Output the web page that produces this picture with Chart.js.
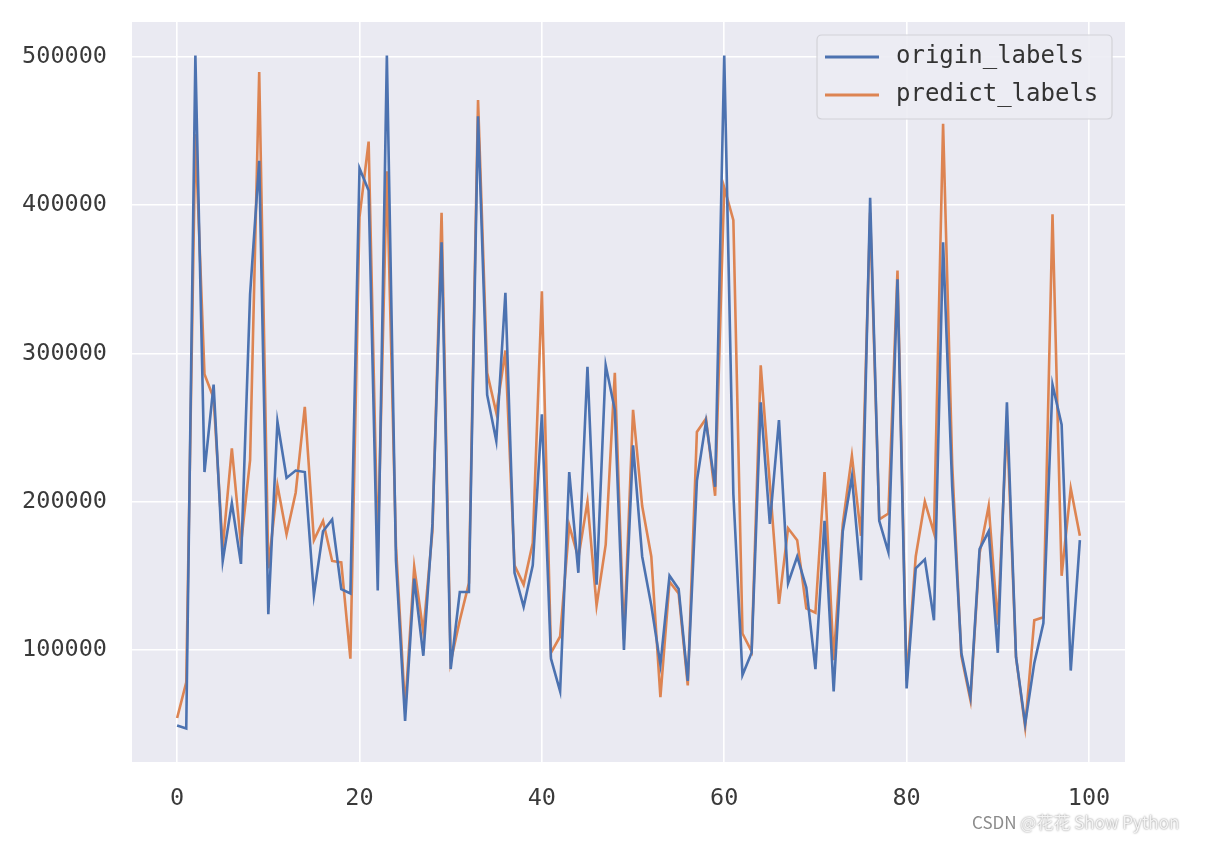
<!DOCTYPE html>
<html>
<head>
<meta charset="utf-8">
<script src="https://cdn.jsdelivr.net/npm/chart.js@4/dist/chart.umd.min.js"></script>
<style>
html,body{margin:0;padding:0;background:#ffffff;}
#wrap{width:1216px;height:842px;position:relative;}
canvas{display:block;}
</style>
</head>
<body>
<div id="wrap"><canvas id="c" width="1216" height="842"></canvas></div>
<script>
const seriesNames = ['origin_labels', 'predict_labels'];
const originLabels = [
  49000, 47000, 501000, 220000, 279000, 160000, 199000, 158000, 340000, 430000,
  124000, 254000, 216000, 221000, 220000, 137000, 180000, 188000, 141000, 138000,
  425000, 410000, 140000, 501000, 160000, 52000, 148000, 96000, 185000, 375000,
  87000, 139000, 139000, 460000, 272000, 241000, 341000, 152000, 129000, 157000,
  259000, 94000, 72000, 220000, 152000, 291000, 144000, 292000, 262000, 100000,
  238000, 163000, 130000, 90000, 150000, 141000, 79000, 214000, 254000, 210000,
  501000, 205000, 83000, 98000, 267000, 185000, 255000, 145000, 163000, 142000,
  87000, 187000, 72000, 180000, 217000, 147000, 405000, 187000, 166000, 350000,
  74000, 155000, 161000, 120000, 375000, 210000, 98000, 68000, 168000, 180000,
  98000, 267000, 95000, 50000, 91000, 118000, 279000, 252000, 86000, 174000
];
const predictLabels = [
  54000, 78000, 448000, 286000, 270000, 169000, 236000, 171000, 228000, 490000,
  155000, 211000, 178000, 206000, 264000, 174000, 187000, 160000, 159000, 94000,
  392000, 443000, 165000, 423000, 170000, 60000, 156000, 112000, 180000, 395000,
  92000, 120000, 145000, 471000, 287000, 260000, 302000, 157000, 144000, 172000,
  342000, 98000, 109000, 184000, 162000, 200000, 130000, 171000, 287000, 107000,
  262000, 197000, 163000, 68000, 146000, 138000, 76000, 247000, 256000, 204000,
  412000, 390000, 111000, 99000, 292000, 212000, 131000, 182000, 174000, 128000,
  125000, 220000, 93000, 185000, 231000, 177000, 395000, 188000, 192000, 356000,
  79000, 163000, 200000, 179000, 455000, 225000, 96000, 66000, 165000, 197000,
  117000, 254000, 95000, 48000, 120000, 122000, 394000, 150000, 209000, 177000
];
const xTicks = [0, 20, 40, 60, 80, 100];
const yTicks = [100000, 200000, 300000, 400000, 500000];

const indices = originLabels.map((_, i) => i);
const toPoints = arr => arr.map((v, i) => ({x: indices[i], y: v}));

const allVals = originLabels.concat(predictLabels);
const yMinD = Math.min(...allVals), yMaxD = Math.max(...allVals);
const yPad = (yMaxD - yMinD) * 0.05;
const xMinD = indices[0], xMaxD = indices[indices.length - 1];
const xPad = (xMaxD - xMinD) * 0.05;

const MONO = '"DejaVu Sans Mono", monospace';
const BLUE = '#4C72B0', ORANGE = '#DD8452';

const bgPlugin = {
  id: 'bg',
  beforeDraw(chart) {
    const {ctx, chartArea: a} = chart;
    ctx.save();
    ctx.fillStyle = '#EAEAF2';
    ctx.fillRect(a.left, a.top, a.right - a.left, a.bottom - a.top);
    ctx.restore();
  },
  afterDraw(chart) {
    const {ctx} = chart;
    const bx = 817, by = 35, bw = 295, bh = 84;
    ctx.save();
    ctx.fillStyle = 'rgba(236,236,243,0.9)';
    ctx.strokeStyle = '#d2d2d8';
    ctx.lineWidth = 1.2;
    const r = 5;
    ctx.beginPath();
    ctx.moveTo(bx + r, by);
    ctx.lineTo(bx + bw - r, by);
    ctx.quadraticCurveTo(bx + bw, by, bx + bw, by + r);
    ctx.lineTo(bx + bw, by + bh - r);
    ctx.quadraticCurveTo(bx + bw, by + bh, bx + bw - r, by + bh);
    ctx.lineTo(bx + r, by + bh);
    ctx.quadraticCurveTo(bx, by + bh, bx, by + bh - r);
    ctx.lineTo(bx, by + r);
    ctx.quadraticCurveTo(bx, by, bx + r, by);
    ctx.closePath();
    ctx.fill();
    ctx.stroke();
    const ds = chart.data.datasets;
    ctx.font = '24px ' + MONO;
    ctx.textBaseline = 'middle';
    ctx.textAlign = 'left';
    ds.forEach((d, i) => {
      const y = 57 + i * 38;
      ctx.strokeStyle = d.borderColor;
      ctx.lineWidth = 2.8;
      ctx.beginPath();
      ctx.moveTo(825, y);
      ctx.lineTo(879, y);
      ctx.stroke();
      ctx.fillStyle = '#333333';
      ctx.fillText(d.label, 896, y);
    });
    ctx.font = '17px "Noto Sans CJK SC", "Noto Sans", sans-serif';
    ctx.textBaseline = 'middle';
    ctx.fillStyle = '#8c8c8c';
    ctx.fillText('CSDN', 972, 823);
    const w = ctx.measureText('CSDN ').width;
    ctx.shadowColor = 'rgba(0,0,0,0.55)';
    ctx.shadowBlur = 2;
    ctx.fillStyle = '#f4f4f4';
    ctx.fillText('@花花 Show Python', 972 + w, 823);
    ctx.restore();
  }
};

new Chart(document.getElementById('c'), {
  type: 'line',
  data: {
    datasets: [
      {label: seriesNames[0], data: toPoints(originLabels), borderColor: BLUE, backgroundColor: BLUE,
       borderWidth: 2.6, pointRadius: 0, tension: 0, fill: false},
      {label: seriesNames[1], data: toPoints(predictLabels), borderColor: ORANGE, backgroundColor: ORANGE,
       borderWidth: 2.6, pointRadius: 0, tension: 0, fill: false}
    ]
  },
  options: {
    responsive: false,
    animation: false,
    events: [],
    layout: {padding: {left: 0, top: 22, right: 91, bottom: 0}},
    plugins: {legend: {display: false}, tooltip: {enabled: false}},
    scales: {
      x: {
        type: 'linear',
        min: xMinD - xPad,
        max: xMaxD + xPad,
        afterBuildTicks(s) { s.ticks = xTicks.map(v => ({value: v})); },
        afterFit(s) { s.height = 80; s.paddingLeft = 0; s.paddingRight = 0; },
        grid: {color: '#ffffff', lineWidth: 1.6, drawTicks: false},
        border: {display: false},
        ticks: {
          padding: 23,
          color: '#3a3a3a',
          font: {family: MONO, size: 23.5},
          maxRotation: 0,
          autoSkip: false,
          callback: v => String(v)
        }
      },
      y: {
        type: 'linear',
        min: yMinD - yPad,
        max: yMaxD + yPad,
        afterBuildTicks(s) { s.ticks = yTicks.map(v => ({value: v})); },
        afterFit(s) { s.width = 132; s.paddingTop = 0; s.paddingBottom = 0; },
        grid: {color: '#ffffff', lineWidth: 1.6, drawTicks: false},
        border: {display: false},
        ticks: {
          padding: 25,
          color: '#3a3a3a',
          font: {family: MONO, size: 23.5},
          autoSkip: false,
          callback: v => String(v)
        }
      }
    }
  },
  plugins: [bgPlugin]
});
</script>
</body>
</html>
